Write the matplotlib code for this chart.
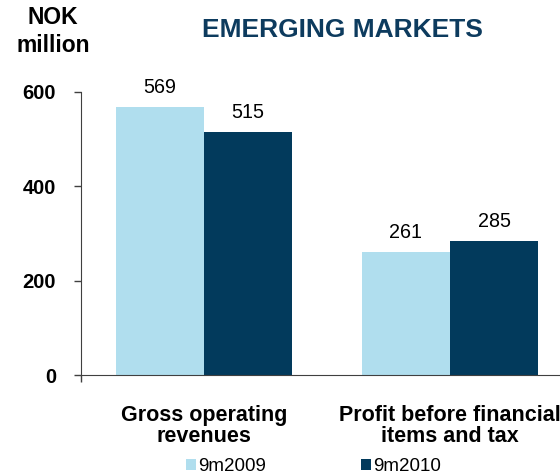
import numpy as np
import matplotlib.pyplot as plt

plt.rcParams['font.family'] = ['Liberation Sans', 'DejaVu Sans']

categories = ['Gross operating\nrevenues', 'Profit before financial\nitems and tax']
series_names = ['9m2009', '9m2010']
vals_2009 = [569, 261]
vals_2010 = [515, 285]
yticks = [0, 200, 400, 600]

LIGHT = '#B0DEEE'
DARK = '#023A5C'

fig = plt.figure(figsize=(5.6, 4.74), dpi=100)
ax = fig.add_axes([0.1446, 0.208, 0.8554, 0.598])

x = np.arange(len(categories))
w = 0.358
b1 = ax.bar(x - w / 2, vals_2009, w, color=LIGHT, label=series_names[0])
b2 = ax.bar(x + w / 2, vals_2010, w, color=DARK, label=series_names[1])

# value labels above bars
for bars, vals in [(b1, vals_2009), (b2, vals_2010)]:
    for rect, v in zip(bars, vals):
        ax.annotate(str(v), (rect.get_x() + rect.get_width() / 2, v),
                    xytext=(0, 7), textcoords='offset points',
                    ha='center', va='bottom', fontsize=14.2)

ax.set_xlim(-0.5, 1.447)
ax.set_ylim(0, 600)
ax.set_yticks(yticks)
ax.set_yticklabels([str(t) for t in yticks], fontweight='bold', fontsize=14.5)
ax.set_xticks(x)
ax.set_xticklabels(categories, fontweight='bold', fontsize=15.5, linespacing=1.05)
ax.set_xticks([-0.5], minor=True)
ax.tick_params(axis='x', which='major', length=0, pad=21)
ax.tick_params(axis='x', which='minor', direction='out', length=5, width=1, color='#404040')
ax.tick_params(axis='y', direction='out', length=5, width=1, color='#404040', pad=13)

for s in ['top', 'right']:
    ax.spines[s].set_visible(False)
ax.spines['left'].set_color('#404040')
ax.spines['bottom'].set_color('#404040')

fig.text(0.095, 1 - 24 / 474, 'NOK', ha='center', va='baseline',
         fontsize=16.5, fontweight='bold')
fig.text(0.095, 1 - 52 / 474, 'million', ha='center', va='baseline',
         fontsize=16.5, fontweight='bold')
fig.text(0.612, 1 - 30 / 474, 'EMERGING MARKETS', ha='center', va='center',
         fontsize=19, fontweight='bold', color='#0D3B5E')

fig.legend(loc='lower left', bbox_to_anchor=(0.332, -0.002), ncol=2, frameon=False,
           fontsize=13.5, handlelength=0.53, handleheight=0.53, handletextpad=0.1,
           columnspacing=5.1, borderpad=0, borderaxespad=0)

fig.savefig('out.png', dpi=100)
